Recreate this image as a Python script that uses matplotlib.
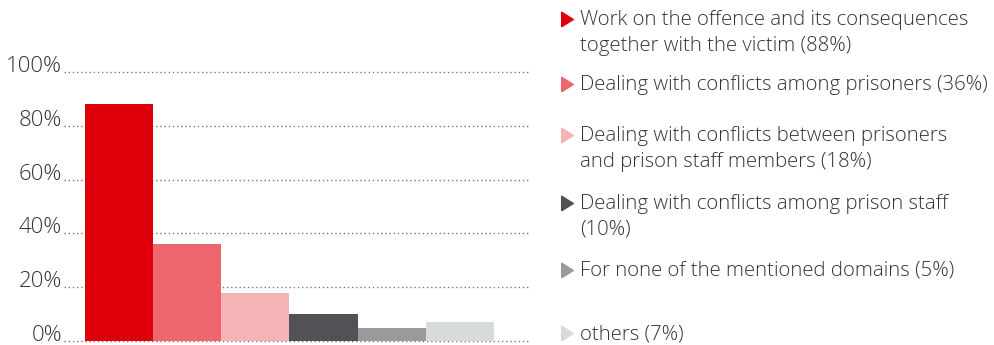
import matplotlib
matplotlib.use('Agg')
import matplotlib.pyplot as plt
from matplotlib.lines import Line2D

plt.rcParams['font.family'] = ['Open Sans', 'DejaVu Sans']

# shares of respondents per domain
domains = [
    'Work on the offence and its consequences\ntogether with the victim ',
    'Dealing with conflicts among prisoners ',
    'Dealing with conflicts between prisoners\nand prison staff members ',
    'Dealing with conflicts among prison staff\n',
    'For none of the mentioned domains ',
    'others ',
]
values = [88, 36, 18, 10, 5, 7]
colors = ['#e0000b', '#ee666d', '#f4b3b5', '#525155', '#9a999d', '#d7dbdb']
yticks = [0, 20, 40, 60, 80, 100]

fig = plt.figure(figsize=(9.95, 3.45), dpi=100)
ax = fig.add_axes([64 / 995, 1 - 341 / 345, 466 / 995, 269 / 345])

x = range(len(values))
ax.bar(x, values, width=1.0, color=colors, zorder=3)
ax.set_xlim(-0.808, 6.03)
ax.set_ylim(0, 100)
ax.set_yticks(yticks)
ax.set_yticklabels([f'{t}%' for t in yticks])
ax.set_xticks([])
ax.tick_params(axis='y', length=0, pad=1.5, labelsize=16, labelcolor='#333333')
for lab in ax.get_yticklabels():
    lab.set_va('baseline')
    lab.set_fontweight('light')
ax.grid(axis='y', color='#777777', linewidth=1, linestyle=(0, (1, 2)), zorder=1)
for sp in ax.spines.values():
    sp.set_visible(False)
for gl in ax.get_ygridlines():
    gl.set_clip_on(False)

# right-pointing triangle for the legend
tri = [(-0.8, -1), (0.8, 0), (-0.8, 1), (-0.8, -1)]

# legend on the right, one entry per bar
legend_y = [19, 84, 135, 203, 270, 333]
for name, v, c, yp in zip(domains, values, colors, legend_y):
    yf = 1 - yp / 345
    fig.add_artist(Line2D([567 / 995], [yf], marker=tri, markersize=10.5,
                          color=c, linestyle='none', transform=fig.transFigure))
    fig.text(580 / 995, yf + 9 / 345, f'{name}({v}%)', fontsize=14.7,
             fontweight='light', color='#333333', va='top', linespacing=1.4)

fig.savefig('out.png', dpi=100)
